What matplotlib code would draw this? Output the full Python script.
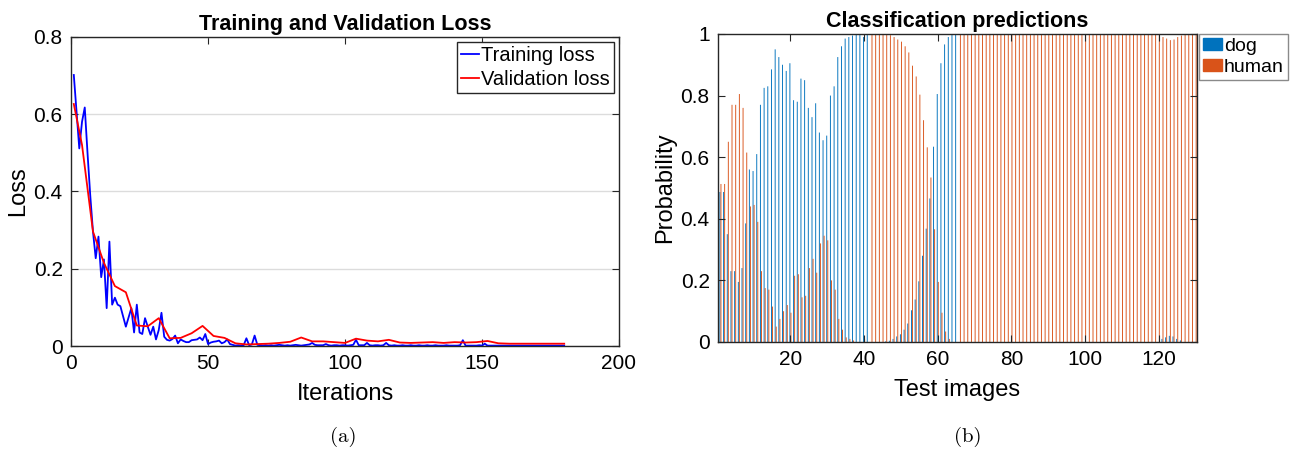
import numpy as np
import matplotlib
matplotlib.use("Agg")
import matplotlib.pyplot as plt
from matplotlib.patches import Patch

plt.rcParams['font.family'] = ['Liberation Sans', 'DejaVu Sans']
plt.rcParams['font.size'] = 13

# ---- training curves ----
train_loss = [
    0.701, 0.605, 0.511, 0.580, 0.617, 0.500, 0.390, 0.296, 0.227, 0.283,
    0.178, 0.224, 0.098, 0.270, 0.107, 0.125, 0.107, 0.103, 0.077, 0.050,
    0.074, 0.098, 0.035, 0.107, 0.035, 0.031, 0.072, 0.050, 0.029, 0.050,
    0.017, 0.041, 0.086, 0.024, 0.016, 0.014, 0.018, 0.027, 0.007, 0.017,
    0.013, 0.010, 0.010, 0.015, 0.016, 0.017, 0.022, 0.015, 0.031, 0.005,
    0.009, 0.011, 0.012, 0.014, 0.007, 0.010, 0.017, 0.005, 0.003, 0.001,
    0.002, 0.001, 0.002, 0.020, 0.002, 0.004, 0.027, 0.003, 0.002, 0.001,
    0.002, 0.001, 0.002, 0.001, 0.002, 0.003, 0.002, 0.001, 0.002, 0.001,
    0.002, 0.003, 0.002, 0.001, 0.002, 0.003, 0.004, 0.008, 0.003, 0.002,
    0.002, 0.002, 0.005, 0.002, 0.001, 0.002, 0.002, 0.001, 0.002, 0.002,
    0.001, 0.002, 0.003, 0.016, 0.002, 0.002, 0.002, 0.008, 0.002, 0.001,
    0.002, 0.002, 0.001, 0.002, 0.008, 0.002, 0.001, 0.002, 0.001, 0.001,
    0.002, 0.001, 0.001, 0.002, 0.001, 0.001, 0.002, 0.001, 0.001, 0.002,
    0.001, 0.001, 0.002, 0.001, 0.001, 0.001, 0.002, 0.001, 0.001, 0.001,
    0.001, 0.002, 0.015, 0.001, 0.001, 0.001, 0.001, 0.001, 0.002, 0.001,
    0.006, 0.001, 0.001, 0.001, 0.001, 0.001, 0.001, 0.001, 0.001, 0.001,
    0.001, 0.001, 0.001, 0.001, 0.001, 0.001, 0.001, 0.001, 0.001, 0.001,
    0.001, 0.001, 0.001, 0.001, 0.001, 0.001, 0.001, 0.001, 0.001, 0.001,
]
train_iter = list(range(1, len(train_loss) + 1))

val_iter = [1] + list(range(4, 181, 4))
val_loss = [
    0.626, 0.520, 0.296, 0.215, 0.155, 0.139, 0.053, 0.051, 0.072, 0.020,
    0.021, 0.033, 0.052, 0.026, 0.021, 0.007, 0.004, 0.005, 0.006, 0.008,
    0.011, 0.022, 0.012, 0.012, 0.010, 0.008, 0.019, 0.014, 0.012, 0.016,
    0.009, 0.008, 0.009, 0.010, 0.008, 0.010, 0.009, 0.010, 0.013, 0.007,
    0.006, 0.006, 0.006, 0.006, 0.006, 0.006,
]

# ---- per-image class probabilities ----
dog_prob = [
    0.487, 0.487, 0.350, 0.230, 0.230, 0.195, 0.240, 0.385, 0.560, 0.555,
    0.610, 0.770, 0.825, 0.830, 0.885, 0.950, 0.925, 0.900, 0.880, 0.905,
    0.785, 0.780, 0.855, 0.850, 0.760, 0.730, 0.775, 0.680, 0.655, 0.670,
    0.800, 0.830, 0.925, 0.960, 0.985, 0.990, 0.995, 1.000, 1.000, 0.990,
    1.000, 0.000, 0.000, 0.000, 0.000, 0.002, 0.004, 0.010, 0.018, 0.025,
    0.040, 0.060, 0.103, 0.138, 0.197, 0.280, 0.368, 0.466, 0.634, 0.805,
    0.905, 0.966, 0.990, 1.000, 1.000,
] + [0.0] * 55 + [0.010, 0.015, 0.020, 0.018, 0.010, 0.005, 0.0, 0.0, 0.0, 0.0]
human_prob = [1.0 - p for p in dog_prob]
images = np.arange(1, len(dog_prob) + 1)

fig = plt.figure(figsize=(12.92, 4.51), dpi=100)

# left: loss curves
ax1 = fig.add_axes([0.055, 0.2328, 0.4241, 0.6858])
ax1.plot(train_iter, train_loss, color='blue', lw=1.3, label='Training loss')
ax1.plot(val_iter, val_loss, color='red', lw=1.3, label='Validation loss')
ax1.set_xlim(0, 200)
ax1.set_ylim(0, 0.8)
ax1.set_xticks([0, 50, 100, 150, 200])
ax1.set_yticks([0, 0.2, 0.4, 0.6, 0.8])
ax1.set_yticklabels(['0', '0.2', '0.4', '0.6', '0.8'])
ax1.yaxis.grid(True, color='#dcdcdc', lw=1)
ax1.set_axisbelow(True)
ax1.set_xlabel('Iterations', fontsize=17, labelpad=7)
ax1.set_ylabel('Loss', fontsize=17, labelpad=3)
ax1.set_title('Training and Validation Loss', fontsize=15.5, fontweight='bold', pad=5)
leg1 = ax1.legend(loc='upper right', fontsize=14.5, handlelength=0.9, handletextpad=0.1,
                  borderpad=0.2, labelspacing=0.25, borderaxespad=0.25,
                  fancybox=False, framealpha=1)
leg1.get_frame().set_edgecolor('#262626')
leg1.get_frame().set_linewidth(1.0)

# right: grouped bars per test image
ax2 = fig.add_axes([0.5557, 0.2417, 0.3707, 0.683])
off = 0.143
bw = 0.25
ax2.bar(images - off, dog_prob, width=bw, color='#0072BD', linewidth=0, snap=False)
ax2.bar(images + off, human_prob, width=bw, color='#D95319', linewidth=0, snap=False)
ax2.set_xlim(0.33, 130.35)
ax2.set_ylim(0, 1)
ax2.set_xticks([20, 40, 60, 80, 100, 120])
ax2.set_yticks([0, 0.2, 0.4, 0.6, 0.8, 1])
ax2.set_yticklabels(['0', '0.2', '0.4', '0.6', '0.8', '1'])
ax2.set_xlabel('Test images', fontsize=17, labelpad=7)
ax2.set_ylabel('Probability', fontsize=17, labelpad=3)
ax2.set_title('Classification predictions', fontsize=15.5, fontweight='bold', pad=5)
handles = [Patch(color='#0072BD', label='dog'), Patch(color='#D95319', label='human')]
leg2 = ax2.legend(handles=handles, loc='upper left', bbox_to_anchor=(1.004, 1.0),
                  fontsize=14, handlelength=1.0, handleheight=0.6, handletextpad=0.1,
                  borderpad=0.2, labelspacing=0.2, borderaxespad=0.0,
                  fancybox=False, framealpha=1)
leg2.get_frame().set_edgecolor('#8a8a8a')
leg2.get_frame().set_linewidth(1.0)

for ax in (ax1, ax2):
    ax.tick_params(direction='in', top=True, right=True, length=5, width=0.8,
                   labelsize=15, colors='#262626', labelcolor='black', pad=6)
    for s in ax.spines.values():
        s.set_color('#262626')
        s.set_linewidth(1.0)

fig.text(343 / 1292, 1 - 437 / 451, '(a)', family='cmr10', fontsize=15,
         ha='center', va='center')
fig.text(968 / 1292, 1 - 437 / 451, '(b)', family='cmr10', fontsize=15,
         ha='center', va='center')

fig.savefig('out.png', dpi=100)
